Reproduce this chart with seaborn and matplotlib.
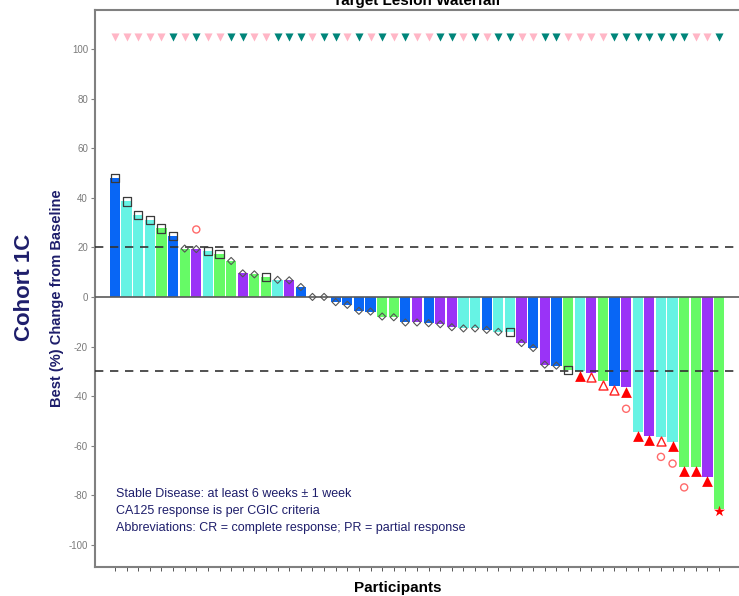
import numpy as np
import pandas as pd
import matplotlib
matplotlib.use("Agg")
import matplotlib.pyplot as plt
import seaborn as sns

# ---------------- data ----------------
values = [48.1, 38.5, 33.2, 31.2, 27.6, 24.5, 19.5, 19.3, 18.5, 17.2,
          14.5, 9.5, 9.1, 8.0, 6.9, 6.7, 4.0, 0.0, 0.0, -2.1,
          -3.2, -5.6, -5.9, -7.9, -8.2, -10.3, -10.3, -10.6, -11.0, -12.2,
          -12.7, -12.7, -13.3, -14.1, -14.3, -18.6, -20.6, -27.3, -27.7, -29.6,
          -30.0, -30.5, -33.7, -35.8, -36.4, -54.3, -56.0, -56.3, -58.5, -68.5,
          -68.5, -72.5, -85.5]
bar_group = ["B", "C", "C", "C", "G", "B", "G", "P", "C", "G",
             "G", "P", "G", "G", "C", "P", "B", "B", "B", "B",
             "B", "B", "B", "G", "G", "B", "P", "B", "P", "P",
             "C", "C", "B", "C", "C", "P", "B", "P", "B", "G",
             "C", "P", "G", "B", "P", "C", "P", "C", "C", "G",
             "G", "P", "G"]
# response marker: S=square, D=diamond, T=filled triangle, t=open triangle, *=star
resp = ["S", "S", "S", "S", "S", "S", "D", "D", "S", "S",
        "D", "D", "D", "S", "D", "D", "D", "D", "D", "D",
        "D", "D", "D", "D", "D", "D", "D", "D", "D", "D",
        "D", "D", "D", "D", "S", "D", "D", "D", "D", "S",
        "T", "t", "t", "t", "T", "T", "T", "t", "T", "T",
        "T", "T", "*"]
top_group = ["P", "P", "P", "P", "P", "T", "P", "T", "P", "P",
             "T", "T", "P", "P", "T", "T", "T", "P", "T", "T",
             "P", "T", "P", "T", "P", "T", "P", "P", "T", "T",
             "P", "T", "P", "T", "T", "P", "P", "T", "T", "P",
             "P", "P", "P", "T", "T", "T", "T", "T", "T", "T",
             "P", "P", "T"]
ca125_idx = [7, 44, 47, 48, 49]
ca125_val = [27.2, -45.1, -64.5, -67.2, -76.8]
top_level = 105

notes = ["Stable Disease: at least 6 weeks \u00b1 1 week",
         "CA125 response is per CGIC criteria",
         "Abbreviations: CR = complete response; PR = partial response"]

# ---------------- style ----------------
bar_palette = {"B": "#0866F5", "C": "#66F3E4", "G": "#66FA66", "P": "#9A33F7"}
top_palette = {"P": "#FFB6C6", "T": "#00857A"}
navy = "#1E1E6B"
grey = "#808080"

sns.set_theme(style="white")
plt.rcParams["font.family"] = ["Liberation Sans", "DejaVu Sans"]
plt.rcParams["axes.unicode_minus"] = False

fig = plt.figure(figsize=(7.39, 5.96), dpi=100)
ax = fig.add_axes([95 / 739, 29 / 596, 644 / 739, 557 / 596])

n = len(values)
idx = np.arange(n)
df = pd.DataFrame({"idx": idx, "val": values, "grp": bar_group,
                   "resp": resp, "top": top_group})

sns.barplot(data=df, x="idx", y="val", hue="grp", palette=bar_palette,
            dodge=False, width=0.88, legend=False, ax=ax, linewidth=0,
            saturation=1)

# reference lines
ax.axhline(0, color="#5a5a5a", lw=1.2, zorder=3)
ax.axhline(20, color="#333333", lw=1.2, ls=(0, (5, 4)), zorder=4)
ax.axhline(-30, color="#333333", lw=1.2, ls=(0, (5, 4)), zorder=4)

# response markers
sq = df[df.resp == "S"]
ax.scatter(sq.idx, sq.val, marker="s", s=34, facecolor="none",
           edgecolor="#3a3a3a", linewidth=0.9, zorder=5)
dm = df[df.resp == "D"]
ax.scatter(dm.idx, dm.val, marker="D", s=13, facecolor="none",
           edgecolor="#555555", linewidth=0.8, zorder=5)
tri_off = 1.8
tf = df[df.resp == "T"]
ax.scatter(tf.idx, tf.val - tri_off, marker="^", s=60, color="#FF0000",
           linewidth=0, zorder=5)
to = df[df.resp == "t"]
ax.scatter(to.idx, to.val - tri_off, marker="^", s=42, facecolor="white",
           edgecolor="#FF2020", linewidth=1.0, zorder=5)
st = df[df.resp == "*"]
ax.scatter(st.idx, st.val - 1.0, marker="*", s=70, color="#FF0000",
           linewidth=0, zorder=5)

# CA125 responses
ax.scatter(ca125_idx, ca125_val, marker="o", s=26, facecolor="none",
           edgecolor="#FF6A6A", linewidth=1.0, zorder=5)

# top triangles
for g, c in top_palette.items():
    sub = df[df.top == g]
    ax.scatter(sub.idx, np.full(len(sub), top_level), marker="v", s=34,
               color=c, linewidth=0, zorder=5)

# axes formatting
ax.set_xlim(-1.72, n + 0.72)
ax.set_ylim(-108.9, 115.7)
ax.set_yticks(np.arange(-100, 101, 20))
ax.set_xticks(idx)
ax.set_xticklabels([])
ax.tick_params(axis="y", labelsize=7, labelcolor="#7a7a7a", color=grey,
               length=3, width=0.8, left=True, pad=2)
ax.tick_params(axis="x", color="#555555", length=3, width=0.7, bottom=True)
for s in ["left", "top", "bottom"]:
    ax.spines[s].set_color(grey)
    ax.spines[s].set_linewidth(1.5)
ax.spines["right"].set_visible(False)
ax.set_xlabel("")
ax.set_ylabel("")

fig.text(417 / 739, 1 - 1 / 596, "Target Lesion Waterfall", ha="center",
         va="center", fontsize=11, fontweight="bold", color="black")
fig.text(57 / 739, 1 - 298 / 596, "Best (%) Change from Baseline",
         rotation=90, ha="center", va="center", fontsize=10.5,
         fontweight="bold", color=navy)
fig.text(25 / 739, 1 - 287 / 596, "Cohort 1C", rotation=90, ha="center",
         va="center", fontsize=16, fontweight="bold", color=navy)
fig.text(398 / 739, 1 - 588 / 596, "Participants", ha="center",
         va="center", fontsize=11, fontweight="bold", color="black")

for i, line in enumerate(notes):
    fig.text(116 / 739, 1 - (494 + 17 * i) / 596, line, ha="left",
             va="center", fontsize=9, color=navy)

fig.savefig("out.png", dpi=100)
